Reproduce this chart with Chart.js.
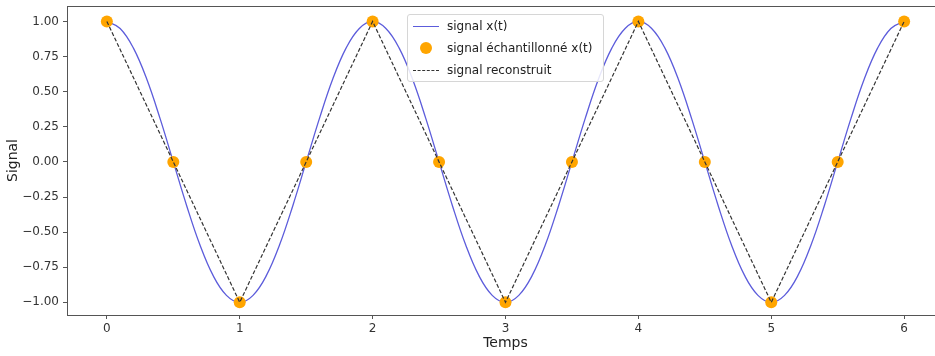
<!DOCTYPE html>
<html>
<head>
<meta charset="utf-8">
<script src="https://cdn.jsdelivr.net/npm/chart.js@4"></script>
<style>
    body { margin: 0; overflow: hidden; background: #fff; font-family: 'DejaVu Sans', sans-serif; }
    #wrap { position: relative; width: 950px; height: 356px; }
    #legend {
        position: absolute; left: 407px; top: 14px; width: 197px; height: 68px;
        border: 1px solid #d6d6d6; border-radius: 3px; background: rgba(255,255,255,0.85);
        font-size: 12px; color: #222; box-sizing: border-box;
    }
    .row { position: absolute; left: 0; height: 20px; line-height: 20px; white-space: nowrap; }
    .row span.lbl { position: absolute; left: 39px; }
    .sw { position: absolute; }
</style>
</head>
<body>
<div id="wrap">
    <canvas id="signalChart"></canvas>
    <div id="legend">
        <div class="row" style="top:1px"><div class="sw" style="left:5px;top:10px;width:26px;border-top:1.4px solid #5c5cdb"></div><span class="lbl">signal x(t)</span></div>
        <div class="row" style="top:23px"><div class="sw" style="left:12px;top:4px;width:12px;height:12px;border-radius:50%;background:#ffa500"></div><span class="lbl">signal échantillonné x(t)</span></div>
        <div class="row" style="top:45px"><div class="sw" style="left:5px;top:10px;width:26px;border-top:1.3px dashed #333"></div><span class="lbl">signal reconstruit</span></div>
    </div>
</div>
<script>
// continuous signal, read every 0.1 s
const tFine = [
    0.0, 0.1, 0.2, 0.3, 0.4, 0.5, 0.6, 0.7, 0.8, 0.9,
    1.0, 1.1, 1.2, 1.3, 1.4, 1.5, 1.6, 1.7, 1.8, 1.9,
    2.0, 2.1, 2.2, 2.3, 2.4, 2.5, 2.6, 2.7, 2.8, 2.9,
    3.0, 3.1, 3.2, 3.3, 3.4, 3.5, 3.6, 3.7, 3.8, 3.9,
    4.0, 4.1, 4.2, 4.3, 4.4, 4.5, 4.6, 4.7, 4.8, 4.9,
    5.0, 5.1, 5.2, 5.3, 5.4, 5.5, 5.6, 5.7, 5.8, 5.9,
    6.0
];
const xFine = [
    1.00, 0.95, 0.81, 0.59, 0.31, 0.00, -0.31, -0.59, -0.81, -0.95,
    -1.00, -0.95, -0.81, -0.59, -0.31, 0.00, 0.31, 0.59, 0.81, 0.95,
    1.00, 0.95, 0.81, 0.59, 0.31, 0.00, -0.31, -0.59, -0.81, -0.95,
    -1.00, -0.95, -0.81, -0.59, -0.31, 0.00, 0.31, 0.59, 0.81, 0.95,
    1.00, 0.95, 0.81, 0.59, 0.31, 0.00, -0.31, -0.59, -0.81, -0.95,
    -1.00, -0.95, -0.81, -0.59, -0.31, 0.00, 0.31, 0.59, 0.81, 0.95,
    1.00
];

// samples
const tSamples = [0, 0.5, 1, 1.5, 2, 2.5, 3, 3.5, 4, 4.5, 5, 5.5, 6];
const xSamples = [1, 0, -1, 0, 1, 0, -1, 0, 1, 0, -1, 0, 1];

const xTicks = [0, 1, 2, 3, 4, 5, 6];
const yTicks = [-1.00, -0.75, -0.50, -0.25, 0.00, 0.25, 0.50, 0.75, 1.00];

const toPoints = (xs, ys) => xs.map((x, i) => ({ x: x, y: ys[i] }));

const frame = {
    id: 'frame',
    afterDatasetsDraw(chart) {
        const a = chart.chartArea;
        const c = chart.ctx;
        c.save();
        c.strokeStyle = '#555';
        c.lineWidth = 1;
        c.strokeRect(Math.round(a.left) + 0.5, Math.round(a.top) + 0.5, Math.round(a.right - a.left), Math.round(a.bottom - a.top));
        c.restore();
    }
};

const font = { family: "'DejaVu Sans', sans-serif", size: 12 };

new Chart(document.getElementById('signalChart').getContext('2d'), {
    type: 'line',
    data: {
        datasets: [{
            label: 'signal x(t)',
            data: toPoints(tFine, xFine),
            borderColor: '#5c5cdb',
            borderWidth: 1.3,
            pointRadius: 0,
            tension: 0.4,
            order: 2
        }, {
            label: 'signal échantillonné x(t)',
            data: toPoints(tSamples, xSamples),
            showLine: false,
            pointRadius: 6,
            pointBackgroundColor: '#ffa500',
            pointBorderColor: '#ffa500',
            pointBorderWidth: 0,
            order: 1
        }, {
            label: 'signal reconstruit',
            data: toPoints(tSamples, xSamples),
            borderColor: '#333',
            borderWidth: 1.2,
            borderDash: [4, 2],
            pointRadius: 0,
            tension: 0,
            order: 0
        }]
    },
    options: {
        responsive: true,
        maintainAspectRatio: false,
        animation: false,
        layout: { padding: { top: 6, right: 3, left: 0, bottom: 0 } },
        plugins: {
            legend: { display: false },
            tooltip: { enabled: false }
        },
        scales: {
            x: {
                type: 'linear',
                min: -0.3,
                max: 6.3,
                afterBuildTicks: axis => { axis.ticks = xTicks.map(v => ({ value: v })); },
                afterFit: axis => { axis.height = 41; axis.paddingLeft = 0; axis.paddingRight = 0; },
                grid: { drawOnChartArea: false, tickLength: 4, tickColor: '#555' },
                border: { color: '#555' },
                ticks: { color: '#333', font: font, padding: 3, maxRotation: 0, callback: v => String(v) },
                title: { display: true, text: 'Temps', color: '#222', font: { family: "'DejaVu Sans', sans-serif", size: 14 }, padding: { top: 5 } }
            },
            y: {
                min: -1.09,
                max: 1.11,
                afterBuildTicks: axis => { axis.ticks = yTicks.map(v => ({ value: v })); },
                afterFit: axis => { axis.width = 67; axis.paddingTop = 0; axis.paddingBottom = 0; },
                grid: { drawOnChartArea: false, tickLength: 4, tickColor: '#555' },
                border: { color: '#555' },
                ticks: { color: '#333', font: font, padding: 4, callback: v => v.toFixed(2).replace('-', '\u2212') },
                title: { display: true, text: 'Signal', color: '#222', font: { family: "'DejaVu Sans', sans-serif", size: 14 }, padding: { top: 5, bottom: 0 } }
            }
        }
    },
    plugins: [frame]
});
</script>
</body>
</html>
